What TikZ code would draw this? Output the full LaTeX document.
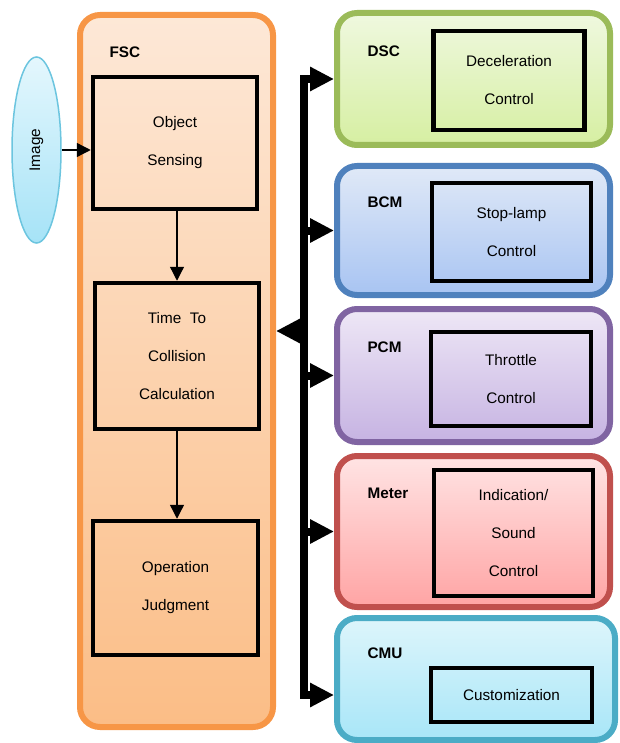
\documentclass[tikz,border=0pt]{standalone}
\usepackage{fontspec}
\setmainfont{Liberation Sans}
\usetikzlibrary{arrows.meta,shapes.geometric}
\definecolor{fscline}{HTML}{F79646}
\definecolor{fsctop}{HTML}{FDE8D7}
\definecolor{fscbot}{HTML}{FBBD86}
\definecolor{dscline}{HTML}{9BBB59}
\definecolor{dsctop}{HTML}{EFF8DF}
\definecolor{dscbot}{HTML}{D6EFA2}
\definecolor{bcmline}{HTML}{4F81BD}
\definecolor{bcmtop}{HTML}{E0E9F7}
\definecolor{bcmbot}{HTML}{A8C4F2}
\definecolor{pcmline}{HTML}{8064A2}
\definecolor{pcmtop}{HTML}{EEE7F6}
\definecolor{pcmbot}{HTML}{C6B3E2}
\definecolor{meterline}{HTML}{C0504D}
\definecolor{metertop}{HTML}{FFE4E4}
\definecolor{meterbot}{HTML}{FFA4A4}
\definecolor{cmuline}{HTML}{4BACC6}
\definecolor{cmutop}{HTML}{DDF5FB}
\definecolor{cmubot}{HTML}{A8E6F8}
\definecolor{imgline}{HTML}{6CC5DF}
\definecolor{imgtop}{HTML}{E4F7FD}
\definecolor{imgbot}{HTML}{A6E3F7}
\tikzset{
  unit/.style={rectangle,rounded corners=20pt,line width=6pt,inner sep=0pt},
  block/.style={draw=black,line width=4.5pt,inner sep=0pt,align=center},
  tag/.style={anchor=west,font=\fontsize{15.3pt}{18pt}\selectfont\bfseries},
  flow/.style={line width=1.3pt,-{Triangle[length=14pt,width=14pt]}},
  bus/.style={line width=8pt},
  busarrow/.style={line width=8pt,-{Triangle[length=24pt,width=23pt]}}
}

\begin{document}
\begin{tikzpicture}[x=1pt,y=-1pt,font=\fontsize{15.3pt}{38pt}\selectfont]
  \useasboundingbox (0,0) rectangle (619,743);
  \node[unit,draw=fscline,top color=fsctop,bottom color=fscbot,minimum width=193pt,minimum height=712pt] (fsc) at (176.5,371) {};
  \node[unit,draw=dscline,top color=dsctop,bottom color=dscbot,minimum width=273pt,minimum height=132pt] (dsc) at (473.5,79) {};
  \node[unit,draw=bcmline,top color=bcmtop,bottom color=bcmbot,minimum width=273pt,minimum height=129pt] (bcm) at (473.5,230.5) {};
  \node[unit,draw=pcmline,top color=pcmtop,bottom color=pcmbot,minimum width=273pt,minimum height=133pt] (pcm) at (473.5,375.5) {};
  \node[unit,draw=meterline,top color=metertop,bottom color=meterbot,minimum width=273pt,minimum height=151pt] (meter) at (473.5,531.5) {};
  \node[unit,draw=cmuline,top color=cmutop,bottom color=cmubot,minimum width=278pt,minimum height=122pt] (cmu) at (476,679) {};

  \node[tag] (fsclab) at (106,52) {FSC};
  \node[tag] (dsclab) at (364,51) {DSC};
  \node[tag] (bcmlab) at (364,202.5) {BCM};
  \node[tag] (pcmlab) at (364,347) {PCM};
  \node[tag] (meterlab) at (364,493) {Meter};
  \node[tag] (cmulab) at (364,653.5) {CMU};

  \node[block,minimum width=164pt,minimum height=132pt] (os) at (175,143) {Object\\Sensing};
  \node[block,minimum width=164pt,minimum height=146pt] (ttc) at (177,356) {Time\ \ To\\Collision\\Calculation};
  \node[block,minimum width=165pt,minimum height=134pt] (oj) at (175.5,588) {Operation\\Judgment};
  \node[block,minimum width=151pt,minimum height=99pt] (dscin) at (509,80.5) {Deceleration\\Control};
  \node[block,minimum width=159pt,minimum height=98pt] (bcmin) at (511.5,232) {Stop-lamp\\Control};
  \node[block,minimum width=160pt,minimum height=94pt] (pcmin) at (511,379) {Throttle\\Control};
  \node[block,minimum width=159pt,minimum height=126pt] (meterin) at (513.5,533) {Indication/\\Sound\\Control};
  \node[block,minimum width=161pt,minimum height=54pt] (cmuin) at (511.5,695) {Customization};

  \node[ellipse,draw=imgline,line width=1.5pt,top color=imgtop,bottom color=imgbot,minimum width=49pt,minimum height=186pt,inner sep=0pt] (img) at (36.5,150) {\rotatebox{90}{Image}};

  \draw[flow] (img.east) -- (img.east -| os.west);
  \draw[flow] (ttc.north |- os.south) -- (ttc.north);
  \draw[flow] (ttc.south) -- (ttc.south |- oj.north);

  \coordinate (bustop) at (303.5,75);
  \coordinate (busbot) at (303.5,699);
  \coordinate (busfsc) at (303.5,331);
  \draw[bus] (bustop) -- (busbot);
  \draw[busarrow] (busfsc) -- (busfsc -| fsc.east);
  \draw[busarrow] (bustop |- dsc.west) -- (dsc.west);
  \draw[busarrow] (bustop |- bcm.west) -- (bcm.west);
  \draw[busarrow] (bustop |- pcm.west) -- (pcm.west);
  \draw[busarrow] (bustop |- meter.west) -- (meter.west);
  \draw[busarrow] (bustop |- cmuin.west) -- (cmuin.west -| cmu.west);
\end{tikzpicture}
\end{document}
